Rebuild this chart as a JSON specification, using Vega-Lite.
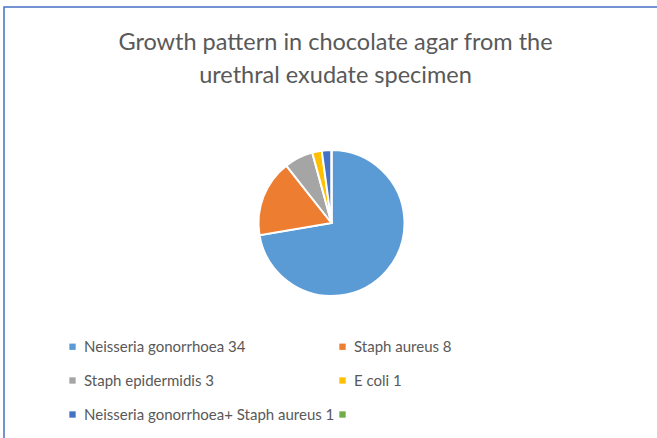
{
  "$schema": "https://vega.github.io/schema/vega-lite/v6.json",
  "autosize": {"type": "none"},
  "width": 655,
  "height": 432,
  "padding": {"left": 4, "top": 7, "right": 0, "bottom": 0},
  "background": "white",
  "config": {"view": {"stroke": "#4472C4", "strokeWidth": 1.5}, "font": "Lato"},
  "title": {
    "text": ["Growth pattern in chocolate agar from the", "urethral exudate specimen"],
    "fontSize": 23.5,
    "font": "Lato",
    "fontWeight": "normal",
    "color": "#595959",
    "anchor": "middle",
    "frame": "group",
    "offset": -80,
    "lineHeight": 33,
    "dx": 4
  },
  "data": {
    "values": [
      {"organism": "Neisseria gonorrhoea 34", "count": 34, "order": 1},
      {"organism": "Staph aureus 8", "count": 8, "order": 2},
      {"organism": "Staph epidermidis 3", "count": 3, "order": 3},
      {"organism": "E coli 1", "count": 1, "order": 4},
      {"organism": "Neisseria gonorrhoea+ Staph aureus 1", "count": 1, "order": 5},
      {"organism": "", "count": 0, "order": 6}
    ]
  },
  "layer": [
    {
      "mark": {"type": "point", "opacity": 0},
      "encoding": {
        "x": {"field": "order", "type": "quantitative", "axis": null},
        "y": {"field": "count", "type": "quantitative", "axis": null}
      }
    },
    {
      "mark": {"type": "arc", "outerRadius": 73, "stroke": "white", "strokeWidth": 2},
      "encoding": {
        "theta": {"field": "count", "type": "quantitative", "stack": true},
        "order": {"field": "order", "type": "quantitative"},
        "color": {
          "field": "organism",
          "type": "nominal",
          "scale": {
            "domain": ["Neisseria gonorrhoea 34", "Staph aureus 8", "Staph epidermidis 3", "E coli 1", "Neisseria gonorrhoea+ Staph aureus 1", ""],
            "range": ["#5B9BD5", "#ED7D31", "#A5A5A5", "#FFC000", "#4472C4", "#70AD47"]
          },
          "legend": {
            "orient": "none",
            "legendX": 61,
            "legendY": 332,
            "columns": 2,
            "direction": "horizontal",
            "title": null,
            "symbolType": "square",
            "symbolSize": 40,
            "symbolStrokeWidth": 0,
            "labelFontSize": 15,
            "labelFont": "Lato",
            "labelColor": "#595959",
            "labelOffset": 4,
            "labelLimit": 400,
            "rowPadding": 18,
            "columnPadding": -1
          }
        }
      }
    }
  ]
}
